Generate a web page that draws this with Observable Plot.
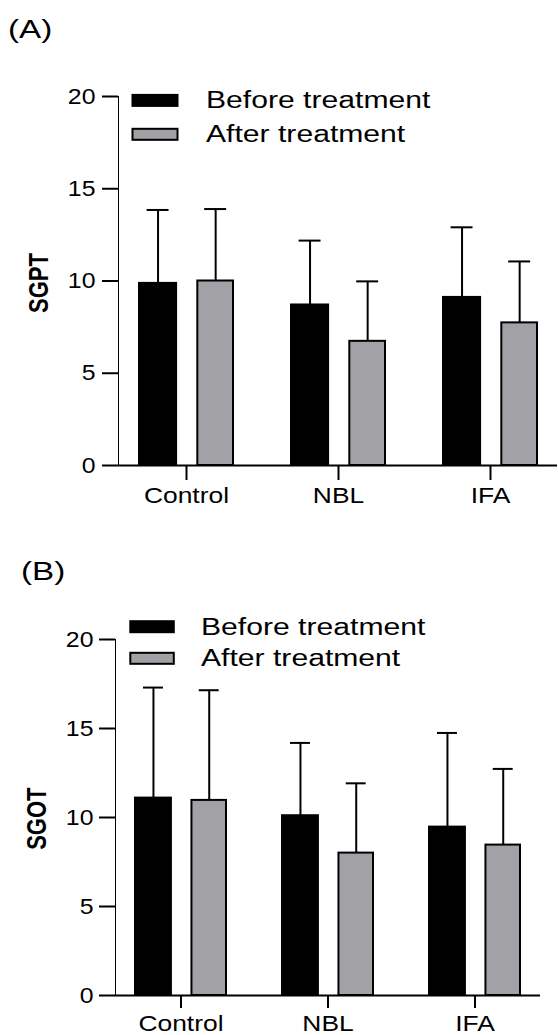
<!DOCTYPE html>
<html><head><meta charset="utf-8">
<script src="https://cdn.jsdelivr.net/npm/d3@7"></script>
<script src="https://cdn.jsdelivr.net/npm/@observablehq/plot@0.6"></script>
<style>
body{margin:0;background:#fff;}
#chart svg{display:block;}
</style></head><body><div id="chart"></div>
<script>
const categories = ["Control", "NBL", "IFA"];
const seriesNames = ["Before treatment", "After treatment"];
const yTicks = [0, 5, 10, 15, 20];
const sgptBefore = [9.87, 8.70, 9.11];
const sgptBeforeSD = [3.98, 3.49, 3.80];
const sgptAfter = [10.00, 6.73, 7.73];
const sgptAfterSD = [3.90, 3.25, 3.33];
const sgotBefore = [11.09, 10.10, 9.46];
const sgotBeforeSD = [6.21, 4.09, 5.29];
const sgotAfter = [10.96, 8.00, 8.45];
const sgotAfterSD = [6.19, 3.92, 4.28];

const FONT = "'Liberation Sans', Arial, Helvetica, sans-serif";
const GRAY = "#a2a1a6";
const PI = 0.383, PO = 0.1315;

function rows(means, sds) { return categories.map((c, i) => ({cat: c, mean: means[i], sd: sds[i]})); }

function stretch(el, s, mode) {
  const svg = el.ownerSVGElement;
  const r = el.getBoundingClientRect();
  const px = mode === "start" ? r.left : mode === "end" ? r.right : r.left + r.width / 2;
  const py = r.top + r.height / 2;
  let pt = svg.createSVGPoint(); pt.x = px; pt.y = py;
  pt = pt.matrixTransform(el.parentNode.getScreenCTM().inverse());
  const old = el.getAttribute("transform") || "";
  el.setAttribute("transform", `translate(${pt.x},${pt.y}) scale(${s},1) translate(${-pt.x},${-pt.y}) ${old}`);
}

function panel(cfg) {
  const W = cfg.width - cfg.ml - cfg.mr;
  const step = W / (categories.length - PI + 2 * PO);
  const bw = step * (1 - PI);
  const capHalf = cfg.cap / 2;
  const before = rows(cfg.before, cfg.beforeSD);
  const after = rows(cfg.after, cfg.afterSD);
  const bC = 0.1975 * bw, aC = 0.81 * bw;
  const chart = Plot.plot({
    width: cfg.width, height: cfg.height,
    marginLeft: cfg.ml, marginRight: cfg.mr, marginTop: cfg.mt, marginBottom: cfg.mb,
    style: {fontFamily: FONT, fontSize: "22px", color: "black", background: "white", overflow: "visible"},
    x: {domain: categories, paddingInner: PI, paddingOuter: PO, label: null, tickSize: cfg.xTick, tickPadding: cfg.xPad},
    y: {domain: [0, 20], ticks: yTicks, tickFormat: d => String(d), label: null, line: true, tickSize: 16, tickPadding: cfg.yPad},
    marks: [
      Plot.ruleX(before, {x: "cat", y1: "mean", y2: d => d.mean + d.sd, dx: bC - bw / 2, stroke: "black", strokeWidth: 2}),
      Plot.ruleX(after, {x: "cat", y1: "mean", y2: d => d.mean + d.sd, dx: aC - bw / 2, stroke: "black", strokeWidth: 2}),
      Plot.tickY(before, {x: "cat", y: d => d.mean + d.sd, insetLeft: bC - capHalf, insetRight: bw - bC - capHalf, stroke: "black", strokeWidth: 2}),
      Plot.tickY(after, {x: "cat", y: d => d.mean + d.sd, insetLeft: aC - capHalf, insetRight: bw - aC - capHalf, stroke: "black", strokeWidth: 2}),
      Plot.barY(before, {x: "cat", y: "mean", fill: "black", stroke: "black", strokeWidth: 2, insetLeft: 0, insetRight: 0.605 * bw}),
      Plot.barY(after, {x: "cat", y: "mean", fill: GRAY, stroke: "black", strokeWidth: 2, insetLeft: 0.62 * bw, insetRight: 0}),
      Plot.ruleY([0], {stroke: "black", strokeWidth: 2})
    ]
  });
  document.getElementById("chart").append(chart);
  const svg = d3.select(chart);
  svg.selectAll("g[aria-label*='axis'] line, g[aria-label*='axis'] path").attr("stroke-width", 2).attr("stroke", "black");
  // stretch tick labels
  svg.selectAll("text").each(function() {
    const a = getComputedStyle(this).textAnchor;
    stretch(this, a === "middle" ? 1.2 : 1.13, a === "middle" ? "middle" : a === "end" ? "end" : "start");
  });
  // panel label
  const pl = svg.append("text").attr("x", cfg.plX).attr("y", cfg.plY).attr("font-size", 25)
    .attr("text-anchor", "start").attr("font-family", FONT).attr("fill", "black").text(cfg.panelLabel);
  stretch(pl.node(), 1.33, "start");
  // y label
  const yl = svg.append("text").attr("transform", `translate(${cfg.ylX},${cfg.ylY}) rotate(-90)`)
    .attr("text-anchor", "middle").attr("dy", "0.36em").attr("font-size", 22).attr("font-weight", "bold")
    .attr("font-family", FONT).attr("fill", "black").text(cfg.yLabel);
  stretch(yl.node(), 1.27, "middle");
  // legend
  const fills = ["black", GRAY];
  seriesNames.forEach((name, i) => {
    const cy = cfg.legY[i];
    svg.append("rect").attr("x", cfg.legX + 1).attr("y", cy - 5.5).attr("width", cfg.legW - 2).attr("height", 11)
      .attr("fill", fills[i]).attr("stroke", "black").attr("stroke-width", 2);
    const t = svg.append("text").attr("x", cfg.legTX).attr("y", cy + 8).attr("font-size", 23)
      .attr("text-anchor", "start").attr("font-family", FONT).attr("fill", "black").text(name);
    stretch(t.node(), 1.31, "start");
  });
}

panel({
  width: 558, height: 530, ml: 118, mr: 1, mt: 96, mb: 65,
  xTick: 15, xPad: 7, yPad: 7, cap: 22,
  before: sgptBefore, beforeSD: sgptBeforeSD, after: sgptAfter, afterSD: sgptAfterSD,
  panelLabel: "(A)", plX: 8, plY: 38.5, yLabel: "SGPT", ylX: 38, ylY: 283,
  legX: 131.5, legW: 47, legY: [100.4, 134.3], legTX: 206
});
panel({
  width: 558, height: 505, ml: 115, mr: 18, mt: 109, mb: 40,
  xTick: 13, xPad: 7, yPad: 6, cap: 20,
  before: sgotBefore, beforeSD: sgotBeforeSD, after: sgotAfter, afterSD: sgotAfterSD,
  panelLabel: "(B)", plX: 21, plY: 50, yLabel: "SGOT", ylX: 36, ylY: 288.7,
  legX: 129.3, legW: 45.5, legY: [96.7, 128.3], legTX: 201
});
</script>
</body></html>
